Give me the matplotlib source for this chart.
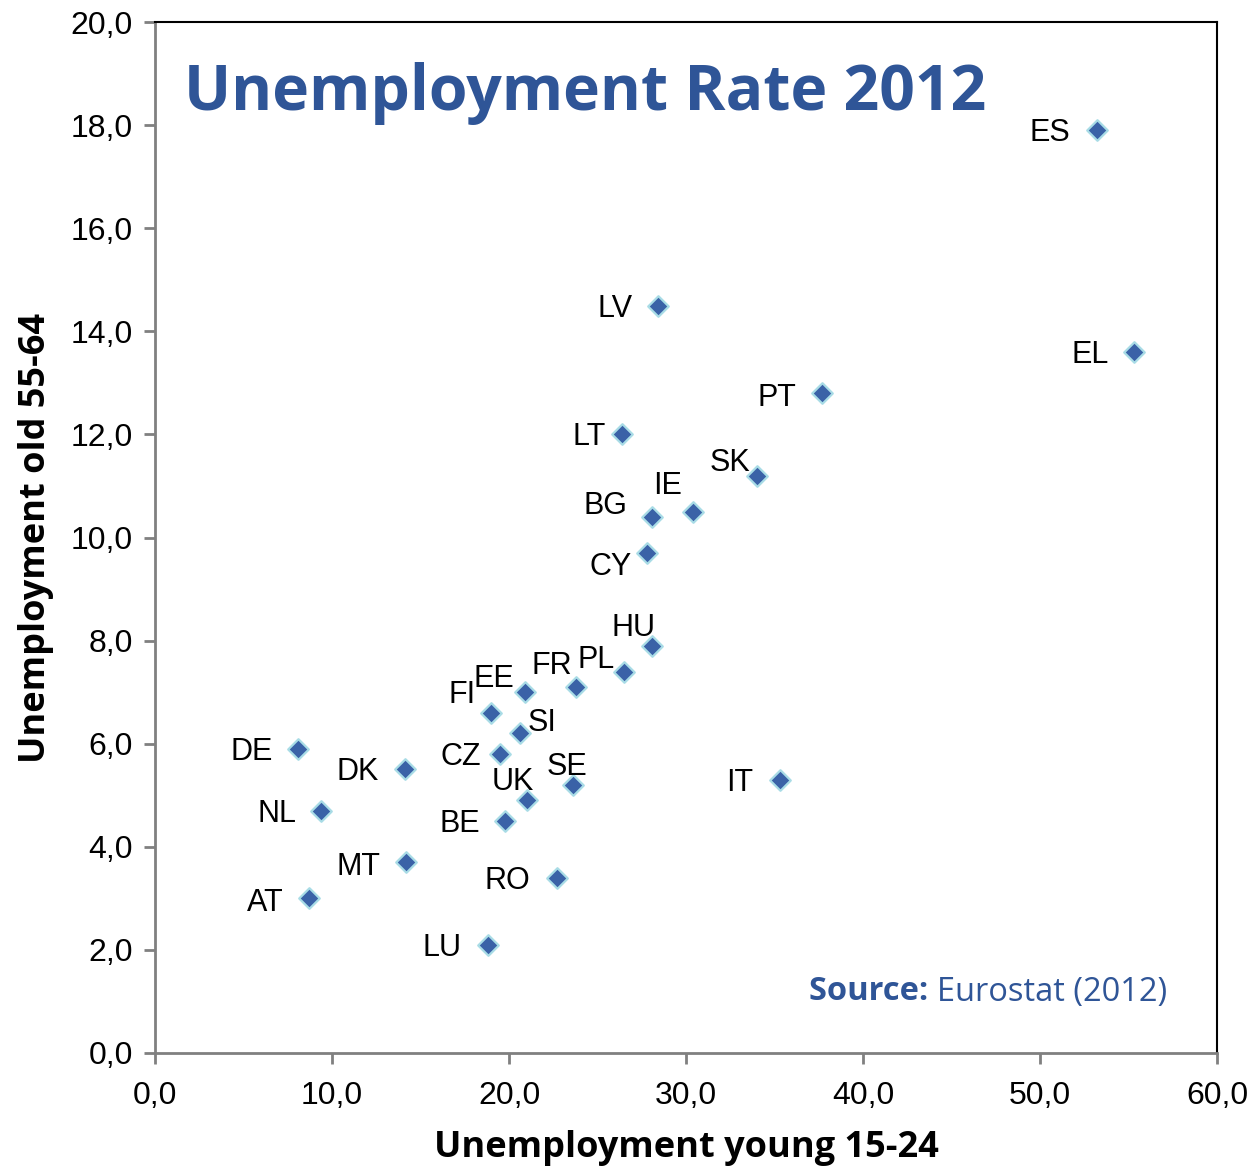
import matplotlib.pyplot as plt
from matplotlib.ticker import FuncFormatter

# data: unemployment rate 2012 (Eurostat)
countries = ["ES", "EL", "LV", "PT", "LT", "SK", "IE", "BG", "CY", "HU",
             "PL", "FR", "EE", "FI", "SI", "CZ", "DE", "DK", "SE", "UK",
             "IT", "NL", "BE", "MT", "RO", "AT", "LU"]
young = [53.2, 55.3, 28.4, 37.7, 26.4, 34.0, 30.4, 28.1, 27.8, 28.1,
         26.5, 23.8, 20.9, 19.0, 20.6, 19.5, 8.1, 14.1, 23.6, 21.0,
         35.3, 9.4, 19.8, 14.2, 22.7, 8.7, 18.8]
old = [17.9, 13.6, 14.5, 12.8, 12.0, 11.2, 10.5, 10.4, 9.7, 7.9,
       7.4, 7.1, 7.0, 6.6, 6.2, 5.8, 5.9, 5.5, 5.2, 4.9,
       5.3, 4.7, 4.5, 3.7, 3.4, 3.0, 2.1]

# label offsets (pixels, text centre relative to marker)
label_offsets = {
    "ES": (-47, 0), "EL": (-44, 0), "LV": (-43, 0), "PT": (-45, -2),
    "LT": (-33, 0), "SK": (-27, 16), "IE": (-26, 29), "BG": (-47, 14),
    "CY": (-36, -11), "HU": (-19, 21), "PL": (-28, 15), "FR": (-24, 24),
    "EE": (-31, 16), "FI": (-29, 21), "SI": (22, 13), "CZ": (-39, 0),
    "DE": (-47, 0), "DK": (-47, 0), "SE": (-6, 21), "UK": (-14, 21),
    "IT": (-40, 0), "NL": (-44, 0), "BE": (-46, 0), "MT": (-48, -2),
    "RO": (-49, 0), "AT": (-44, -2), "LU": (-46, 0),
}

blue = "#2F5597"
grey = "#808080"

fig = plt.figure(figsize=(12.57, 11.70), dpi=100)
ax = fig.add_axes([155 / 1257, 117 / 1170, 1062 / 1257, 1031 / 1170])

ax.scatter(young, old, marker="D", s=110, color="#3A62A7",
           edgecolors="#A9DCE6", linewidths=1.6, zorder=3)

for c, x, y in zip(countries, young, old):
    dx, dy = label_offsets[c]
    ax.annotate(c, (x, y), xytext=(dx, dy - 3), textcoords="offset pixels",
                ha="center", va="center", fontsize=22,
                family="Liberation Sans", color="black")

ax.set_xlim(0, 60)
ax.set_ylim(0, 20)
ax.set_xticks(range(0, 61, 10))
ax.set_yticks(range(0, 21, 2))
fmt = FuncFormatter(lambda v, p: f"{v:.1f}".replace(".", ","))
ax.xaxis.set_major_formatter(fmt)
ax.yaxis.set_major_formatter(fmt)

for lab in ax.get_xticklabels() + ax.get_yticklabels():
    lab.set_family("Liberation Sans")
    lab.set_fontsize(23)

ax.tick_params(direction="out", length=8, width=2, color=grey)
ax.tick_params(axis="x", pad=12)
ax.tick_params(axis="y", pad=8)
ax.spines["left"].set_color(grey)
ax.spines["bottom"].set_color(grey)
ax.spines["left"].set_linewidth(2)
ax.spines["bottom"].set_linewidth(2)
ax.spines["top"].set_color("black")
ax.spines["right"].set_color("black")
ax.spines["top"].set_linewidth(1.5)
ax.spines["right"].set_linewidth(1.5)

ax.set_xlabel("Unemployment young 15-24", fontsize=26, fontweight="bold",
              family="Open Sans", labelpad=14)
ax.set_ylabel("Unemployment old 55-64", fontsize=26, fontweight="bold",
              family="Open Sans", labelpad=12)

ax.text(0.027, 0.931, "Unemployment Rate 2012", transform=ax.transAxes,
        fontsize=45, fontweight="bold", family="Open Sans", color=blue,
        ha="left", va="center")

src = fig.text(1167 / 1257, 1 - 992 / 1170, "Eurostat (2012)", fontsize=23.5,
               family="Open Sans", color=blue, ha="right", va="center")
ax.annotate("Source: ", xy=(0, 0.5), xycoords=src, fontsize=23.5,
            family="Open Sans", fontweight="bold", color=blue,
            ha="right", va="center")

fig.savefig("out.png", dpi=100)
